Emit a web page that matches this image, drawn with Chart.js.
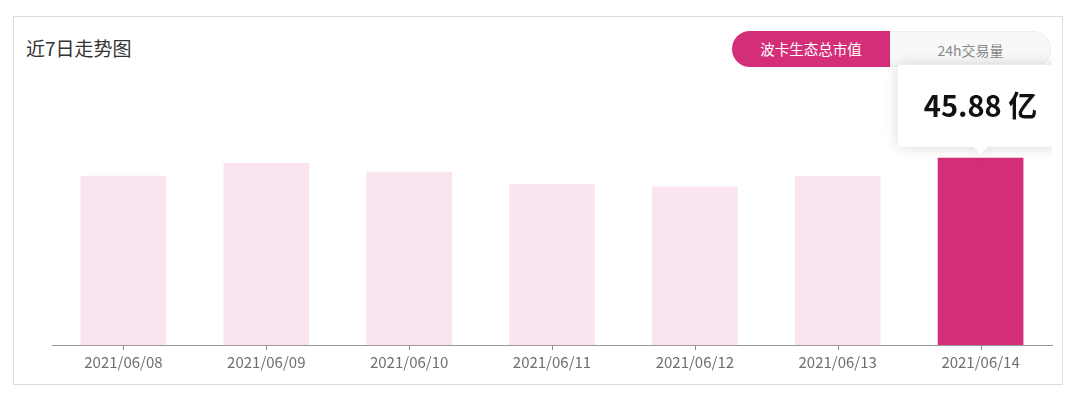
<!DOCTYPE html>
<html>
<head>
<meta charset="utf-8">
<script src="https://cdn.jsdelivr.net/npm/chart.js@4"></script>
<style>
  body { margin: 0; background: #fff; font-family: "Noto Sans CJK SC", "Noto Sans", sans-serif; }
  #wrap { position: relative; width: 1080px; height: 405px; overflow: hidden; }
  .card { position: absolute; left: 13px; top: 16px; width: 1048px; height: 367px; border: 1px solid #dcdcdc; }
  .title { position: absolute; left: 26px; top: 35px; font-size: 19px; line-height: 26px; color: #333; }
  .toggle { position: absolute; left: 732px; top: 31px; height: 36px; display: flex; }
  .tab { height: 36px; line-height: 36px; text-align: center; font-size: 14.5px; box-sizing: border-box; }
  .tab.on { width: 158px; background: #d52e79; color: #fff; border-radius: 18px 0 0 18px; }
  .tab.off { width: 161px; background: #f8f8f8; color: #888; border-radius: 0 18px 18px 0; border: 1px solid #eeeeee; font-size: 14px; }
  canvas { position: absolute; left: 0; top: 0; }
</style>
</head>
<body>
<div id="wrap">
  <div class="card"></div>
  <div class="title">近7日走势图</div>
  <div class="toggle">
    <div class="tab on">波卡生态总市值</div>
    <div class="tab off">24h交易量</div>
  </div>
  <canvas id="grafico" width="1080" height="405"></canvas>
</div>

<script>
// datos del gráfico (市值, 亿)
const fechas = ['2021/06/08', '2021/06/09', '2021/06/10', '2021/06/11', '2021/06/12', '2021/06/13', '2021/06/14'];
const valores = [41.45, 44.58, 42.44, 39.41, 38.82, 41.38, 45.88];
const indice_activo = 6;
const unidad = '亿';

const rosa = '#d52e79';
const rosa_claro = '#fae4ef';

// marcas del eje x centradas en cada categoría
const marcasEje = {
    id: 'marcasEje',
    afterDraw(chart) {
        const escala = chart.scales.x;
        const ctx = chart.ctx;
        const y0 = chart.chartArea.bottom;
        ctx.save();
        ctx.strokeStyle = '#888';
        ctx.lineWidth = 1;
        fechas.forEach((f, i) => {
            const px = Math.round(escala.getPixelForTick(i)) + 0.5;
            ctx.beginPath();
            ctx.moveTo(px, y0);
            ctx.lineTo(px, y0 + 5);
            ctx.stroke();
        });
        ctx.restore();
    }
};

// tooltip fijo sobre la barra activa
const tooltipFijo = {
    id: 'tooltipFijo',
    afterDatasetsDraw(chart) {
        const bar = chart.getDatasetMeta(0).data[indice_activo];
        const ctx = chart.ctx;
        const w = 166, h = 82, r = 4;
        const x = bar.x;
        const bottom = bar.y - 11;
        const top = bottom - h;
        const left = x - w / 2;
        const right = x + w / 2;

        ctx.save();
        ctx.beginPath();
        ctx.rect(0, 0, chart.chartArea.right, chart.height);
        ctx.clip();
        ctx.shadowColor = 'rgba(0,0,0,0.16)';
        ctx.shadowBlur = 14;
        ctx.fillStyle = '#fff';
        ctx.beginPath();
        ctx.moveTo(left + r, top);
        ctx.lineTo(right - r, top);
        ctx.quadraticCurveTo(right, top, right, top + r);
        ctx.lineTo(right, bottom - r);
        ctx.quadraticCurveTo(right, bottom, right - r, bottom);
        ctx.lineTo(x + 7, bottom);
        ctx.lineTo(x, bottom + 8);
        ctx.lineTo(x - 7, bottom);
        ctx.lineTo(left + r, bottom);
        ctx.quadraticCurveTo(left, bottom, left, bottom - r);
        ctx.lineTo(left, top + r);
        ctx.quadraticCurveTo(left, top, left + r, top);
        ctx.closePath();
        ctx.fill();
        ctx.restore();

        ctx.save();
        ctx.fillStyle = '#111';
        ctx.font = 'bold 29px "Noto Sans CJK SC", "Noto Sans", sans-serif';
        ctx.textAlign = 'center';
        ctx.textBaseline = 'alphabetic';
        ctx.fillText(`${valores[indice_activo].toFixed(2)} ${unidad}`, x, top + 52);
        ctx.restore();
    }
};

new Chart(document.getElementById('grafico'), {
    type: 'bar',
    data: {
        labels: fechas,
        datasets: [{
            data: valores,
            backgroundColor: valores.map((v, i) => i === indice_activo ? rosa : rosa_claro),
            borderWidth: 0,
            barPercentage: 0.6,
            categoryPercentage: 1
        }]
    },
    options: {
        responsive: false,
        animation: false,
        layout: { padding: { left: 52, right: 28, top: 100, bottom: 31 } },
        plugins: { legend: { display: false }, tooltip: { enabled: false } },
        scales: {
            x: {
                grid: { drawOnChartArea: false, drawTicks: true, tickLength: 5, tickColor: 'rgba(0,0,0,0)', color: 'rgba(0,0,0,0)' },
                border: { display: true, color: '#999', width: 1 },
                ticks: { color: '#6f6f6f', padding: 3, font: { size: 15, family: '"Noto Sans CJK SC", "Noto Sans", sans-serif' } }
            },
            y: { display: false, min: 0, max: 60 }
        }
    },
    plugins: [marcasEje, tooltipFijo]
});
</script>
</body>
</html>
